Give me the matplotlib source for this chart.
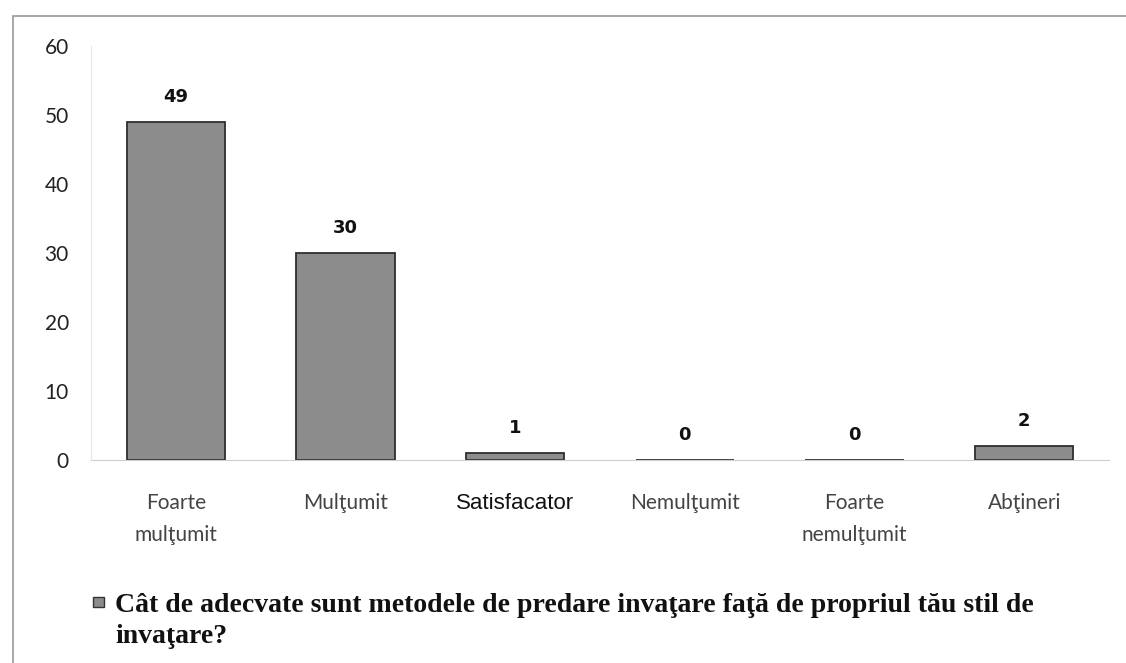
import matplotlib
matplotlib.use("Agg")
import matplotlib.pyplot as plt
from matplotlib.patches import Rectangle

categories = ["Foarte\nmulţumit", "Mulţumit", "Satisfacator", "Nemulţumit", "Foarte\nnemulţumit", "Abţineri"]
values = [49, 30, 1, 0, 0, 2]
yticks = [0, 10, 20, 30, 40, 50, 60]
legend_label = "Cât de adecvate sunt metodele de predare invaţare faţă de propriul tău stil de\ninvaţare?"

W, H = 1126, 663
fig = plt.figure(figsize=(W / 100, H / 100), dpi=100)
fig.patches.append(Rectangle((13 / W, -0.01), 1.2, 1 - 16 / H + 0.01, transform=fig.transFigure,
                             fill=False, edgecolor="#9a9a9a", linewidth=1.2))
ax = fig.add_axes([91 / W, 1 - 460 / H, (1109 - 91) / W, (460 - 46) / H])
x = list(range(len(categories)))
ax.bar(x, values, width=0.58, color="#8c8c8c", edgecolor="#2e2e2e", linewidth=1.3)
ax.set_xlim(-0.5, len(categories) - 0.5)
ax.set_ylim(0, 60)
ax.set_yticks(yticks)
ax.set_yticklabels([str(t) for t in yticks], fontsize=15, family="Lato", color="#222222")
ax.set_xticks(x)
ax.set_xticklabels(categories, fontsize=15, family="Lato", color="#444444", linespacing=1.75)
sat = ax.get_xticklabels()[2]
sat.set_family("Liberation Sans")
sat.set_fontsize(16)
sat.set_color("#111111")
ax.tick_params(axis="x", length=0, pad=24)
ax.tick_params(axis="y", length=0, pad=16)
for s in ["top", "right"]:
    ax.spines[s].set_visible(False)
ax.spines["left"].set_color("#e8e8e8")
ax.spines["bottom"].set_color("#cfcfcf")
for xi, v in zip(x, values):
    ax.annotate(str(v), (xi, v), xytext=(0, 18), textcoords="offset points",
                ha="center", va="center", fontsize=13, family="DejaVu Sans",
                fontweight="bold", color="#111111")

fig.patches.append(Rectangle((93 / W, 1 - 607 / H), 11 / W, 10 / H, transform=fig.transFigure,
                             facecolor="#8c8c8c", edgecolor="#333333", linewidth=1))
for i, line in enumerate(legend_label.split("\n")):
    fig.text(115 / W, 1 - (612 + 31 * i) / H, line, fontsize=20, family="Liberation Serif",
             fontweight="bold", color="#111111", va="baseline")
fig.savefig("out.png", dpi=100)
